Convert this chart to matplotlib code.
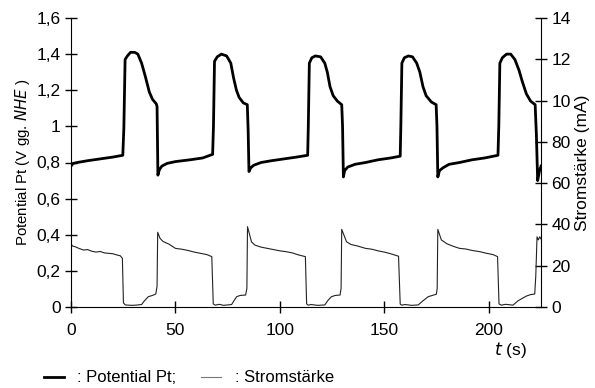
import numpy as np
import matplotlib.pyplot as plt
from matplotlib.ticker import FixedLocator, FixedFormatter

plt.rcParams["font.family"] = ["Liberation Sans", "DejaVu Sans"]
plt.rcParams["font.size"] = 12.5

# potential Pt (V vs NHE)
pot_t = [0, 1, 3, 8, 14, 20, 24.8, 25.3, 25.9, 27, 28.5, 30.5, 32, 33.8, 35.5, 37.5, 39, 40.8, 41.2, 41.6,
         42.3, 43.5, 46, 50, 57, 63, 67.8, 68.2, 68.7, 70, 72, 74.5, 76.5, 77.8, 79.2, 80.5, 82.5, 84.4, 84.8, 85.2,
         86, 87.5, 91, 96, 102, 108, 113.3, 113.6, 114.1, 115.3, 117, 119.5, 121.5, 122.7, 124, 125.5, 127.5, 129.6, 130.0, 130.4,
         131, 132.5, 136, 141, 147, 153, 157.6, 157.9, 158.4, 159.6, 161.5, 163.5, 165.5, 167, 168.5, 170, 172.5, 174.8, 175.2, 175.6,
         176.4, 178, 181, 186, 192, 198, 204.4, 204.8, 205.3, 206.5, 208.5, 210.5, 212.5, 214.5, 216, 218, 220, 222.2, 222.8, 223.4,
         224.2, 225]
pot_v = [0.78, 0.795, 0.80, 0.81, 0.82, 0.83, 0.84, 0.99, 1.37, 1.39, 1.41, 1.41, 1.40, 1.35, 1.28, 1.19, 1.15, 1.125, 1.11, 0.73,
         0.76, 0.78, 0.795, 0.805, 0.815, 0.825, 0.845, 1.0, 1.36, 1.385, 1.40, 1.39, 1.35, 1.27, 1.20, 1.16, 1.13, 1.12, 0.98, 0.75,
         0.77, 0.785, 0.80, 0.81, 0.82, 0.83, 0.84, 1.0, 1.35, 1.38, 1.39, 1.385, 1.35, 1.30, 1.22, 1.17, 1.14, 1.12, 1.0, 0.72,
         0.755, 0.775, 0.79, 0.80, 0.815, 0.825, 0.835, 1.0, 1.35, 1.38, 1.39, 1.385, 1.35, 1.30, 1.22, 1.17, 1.135, 1.12, 1.0, 0.72,
         0.755, 0.77, 0.79, 0.80, 0.815, 0.825, 0.84, 1.0, 1.35, 1.38, 1.40, 1.40, 1.37, 1.31, 1.25, 1.18, 1.14, 1.12, 0.95, 0.70,
         0.75, 0.78]

# current (right axis units)
cur_t = [0, 0.8, 2, 4, 6, 8, 10, 12, 14, 16, 18, 20, 22, 23.6, 24.6, 25.1, 26, 29, 31, 33.8, 35, 37, 39, 40.6, 41.2, 41.5,
         42.6, 44, 47, 50, 53, 56, 59, 62, 65, 67.4, 68.1, 69, 71, 73, 76.9, 78, 79.3, 81, 83.6, 84.2, 84.5,
         86.4, 88, 91, 94, 97, 100, 103, 106, 109, 112.2, 112.8, 113.5, 115, 118, 121.5, 123, 124.7, 126.5, 128.8, 129.3, 129.6,
         131.9, 134, 137, 141, 144, 147, 150, 153, 156.8, 157.6, 158.3, 160, 163, 166.2, 168.5, 171, 173, 174.9, 175.3, 175.6,
         177.3, 180, 183, 186, 189, 192, 195.7, 199, 202, 204.2, 204.9, 206, 208, 211.6, 214, 218, 220, 222, 222.5, 223.1, 223.7, 224.4, 225]
cur_v = [30.5, 29.5, 29.2, 28.3, 27.6, 27.8, 27.0, 26.6, 26.9, 26.2, 26.0, 25.8, 25.2, 24.8, 23.6, 2.0, 1.0, 0.8, 0.9, 1.2, 2.8, 5.0, 5.6, 6.3, 10, 36.2,
         33.3, 31.8, 30.4, 28.4, 28.0, 27.4, 26.6, 26.0, 25.4, 24.4, 1.5, 0.9, 1.3, 0.8, 1.2, 3.0, 5.0, 5.6, 5.8, 9, 38.9,
         31.6, 30.0, 29.0, 28.4, 27.8, 27.2, 26.8, 26.2, 25.2, 24.4, 1.5, 0.9, 1.2, 0.8, 1.0, 3.2, 5.0, 5.6, 5.8, 9, 37.6,
         31.6, 30.3, 29.6, 28.4, 28.0, 27.2, 26.6, 25.8, 24.6, 1.4, 0.9, 1.2, 0.8, 1.0, 3.0, 5.0, 5.6, 6.2, 9, 37.6,
         32.5, 30.6, 29.4, 28.4, 28.1, 27.4, 26.8, 26.0, 25.4, 24.4, 1.5, 0.9, 1.3, 0.9, 3.0, 5.3, 6.0, 6.3, 15, 34.0, 32.5, 34.0, 33.0]

left_ticks = [0, 0.2, 0.4, 0.6, 0.8, 1.0, 1.2, 1.4, 1.6]
left_labels = ["0", "0,2", "0,4", "0,6", "0,8", "1", "1,2", "1,4", "1,6"]
right_ticks = [0, 20, 40, 60, 80, 100, 120, 140]
right_labels = ["0", "20", "40", "60", "80", "10", "12", "14"]
x_ticks = [0, 50, 100, 150, 200]

fig = plt.figure(figsize=(5.95, 3.88), dpi=100)
ax = fig.add_axes([71 / 595, 81 / 388, 470 / 595, 289 / 388])
ax2 = ax.twinx()

ax2.plot(cur_t, cur_v, color="#222222", lw=0.8)
ax.plot(pot_t, pot_v, color="black", lw=2.0, solid_joinstyle="round")
ax.set_zorder(ax2.get_zorder() + 1)
ax.patch.set_visible(False)

ax.set_xlim(0, 225)
ax.set_ylim(0, 1.6)
ax2.set_ylim(0, 140)

for a in (ax, ax2):
    a.spines["top"].set_visible(False)
ax.spines["right"].set_visible(False)
ax2.spines["left"].set_visible(False)
ax2.spines["bottom"].set_visible(False)

ax.yaxis.set_major_locator(FixedLocator(left_ticks))
ax.yaxis.set_major_formatter(FixedFormatter(left_labels))
ax2.yaxis.set_major_locator(FixedLocator(right_ticks))
ax2.yaxis.set_major_formatter(FixedFormatter(right_labels))
ax.set_xticks(x_ticks)

ax.tick_params(axis="both", direction="inout", length=9, width=1, pad=3)
ax.tick_params(axis="x", pad=7)
ax2.tick_params(axis="y", direction="inout", length=9, width=1, pad=3)

ax.set_ylabel("Potential Pt (V gg. $\\it{NHE}$ )", labelpad=3, fontsize=10.8)
ax2.set_ylabel("Stromstärke (mA)", labelpad=3)
fig.text(527 / 595, 1 - 350 / 388, "$\\it{t}$ (s)", ha="right", va="center")

h1, = ax.plot([], [], color="black", lw=2.0)
h2, = ax.plot([], [], color="#777777", lw=0.8)
fig.legend([h1, h2], [": Potential Pt;", ": Stromstärke"], loc="center left",
           bbox_to_anchor=(29 / 595, 1 - 378 / 388), ncol=2, frameon=False, fontsize=12,
           handlelength=1.2, handletextpad=0.8, columnspacing=1.5)

fig.savefig("out.png", dpi=100)
